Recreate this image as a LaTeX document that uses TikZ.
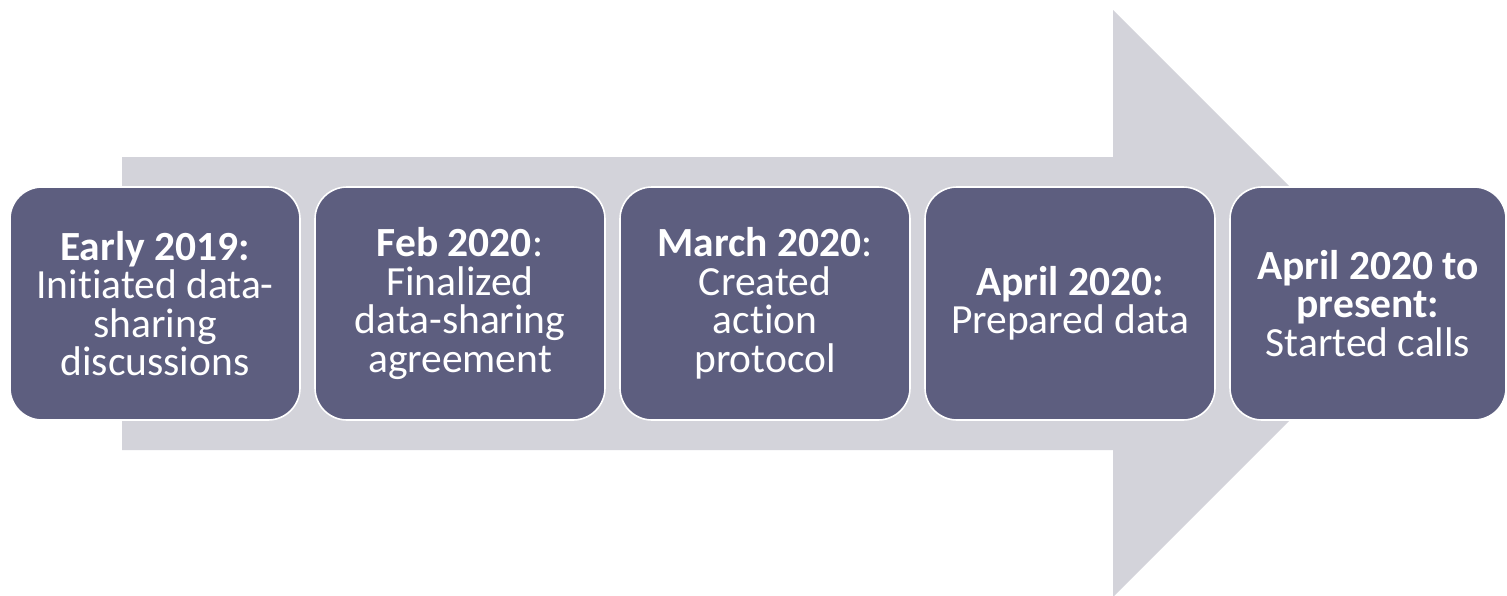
\documentclass[tikz,border=0pt]{standalone}
\usepackage{fontspec}
\setmainfont{Carlito}[Ligatures={NoCommon}]
\definecolor{arrowgray}{RGB}{211,211,218}
\definecolor{stagefill}{RGB}{93,94,127}
\begin{document}
\begin{tikzpicture}[x=1pt,y=-1pt,
  stage/.style={rectangle, rounded corners=32pt, fill=stagefill, draw=white,
    line width=1.6pt, text=white, align=center, inner sep=0pt,
    minimum height=233pt,
    font=\fontsize{41.5}{38.5}\selectfont}]
  \useasboundingbox (0,0) rectangle (1507,595);
  % broad background arrow
  \fill[arrowgray] (122,157) -- (1113,157) -- (1113,10) -- (1406.5,303.5)
    -- (1113,597) -- (1113,450) -- (122,450) -- cycle;
  % timeline stages
  \node[stage, minimum width=290pt] (s1) at (155,303.5)
    {\textbf{Early 2019:}\\Initiated data-\\sharing\\discussions};
  \node[stage, minimum width=290pt] (s2) at (460,303.5)
    {\textbf{Feb 2020}:\\Finalized\\data-sharing\\agreement};
  \node[stage, minimum width=290pt] (s3) at (765,303.5)
    {\textbf{March 2020}:\\Created\\action\\protocol};
  \node[stage, minimum width=290pt] (s4) at (1070,303.5)
    {\textbf{April 2020:}\\Prepared data};
  \node[stage, minimum width=276pt] (s5) at (1368,303.5)
    {\textbf{April 2020 to}\\\textbf{present:}\\Started calls};
\end{tikzpicture}
\end{document}
